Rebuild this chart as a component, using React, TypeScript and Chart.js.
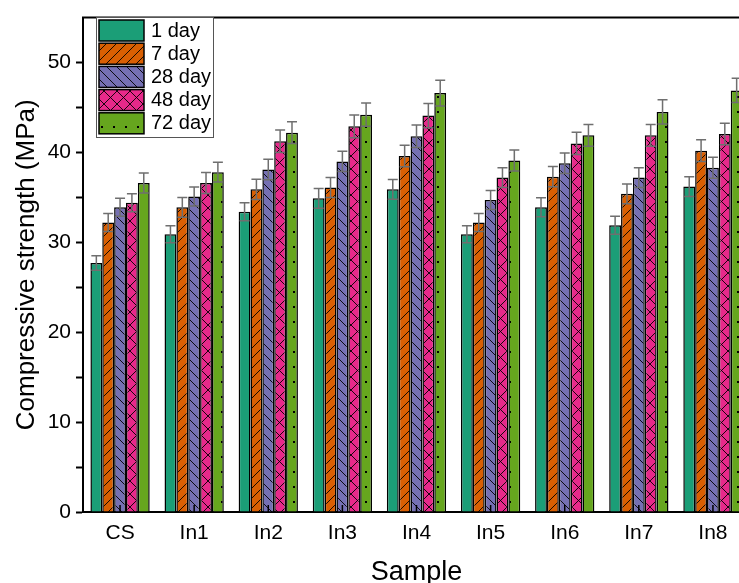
import React, { useEffect, useRef } from 'react';
import { Chart, registerables } from 'chart.js';

Chart.register(...registerables);

const categories = ['CS', 'In1', 'In2', 'In3', 'In4', 'In5', 'In6', 'In7', 'In8'];
const seriesLabels = ['1 day', '7 day', '28 day', '48 day', '72 day'];
const day1 = [27.7, 30.9, 33.4, 34.9, 35.9, 30.9, 33.9, 31.9, 36.2];
const day7 = [32.2, 33.9, 35.9, 36.1, 39.6, 32.2, 37.3, 35.4, 40.2];
const day28 = [33.9, 35.1, 38.1, 39.0, 41.8, 34.7, 38.8, 37.2, 38.3];
const day48 = [34.4, 36.6, 41.25, 42.9, 44.1, 37.2, 41.0, 41.9, 42.05];
const day72 = [36.6, 37.8, 42.2, 44.2, 46.6, 39.1, 41.9, 44.5, 46.9];
const err1 = [0.8, 0.95, 1.0, 1.1, 1.1, 0.95, 1.06, 1.0, 1.1];
const err7 = [1.0, 1.1, 1.13, 1.1, 1.2, 1.0, 1.13, 1.1, 1.2];
const err28 = [1.0, 1.05, 1.13, 1.13, 1.24, 1.06, 1.13, 1.1, 1.17];
const err48 = [1.0, 1.17, 1.25, 1.27, 1.35, 1.1, 1.24, 1.2, 1.2];
const err72 = [1.1, 1.1, 1.2, 1.3, 1.43, 1.17, 1.2, 1.35, 1.35];
const yTickLabels = [0, 10, 20, 30, 40, 50];

const colors = ['#1B9E77', '#D95F02', '#7570B3', '#E7298A', '#66A61E'];
const kinds = ['solid', 'fwd', 'back', 'cross', 'dots'];

function makePattern(ctx: CanvasRenderingContext2D, color: string, kind: string): any {
  if (kind === 'solid') return color;
  let w = 10, h = 10;
  if (kind === 'cross') { w = 13; h = 13; }
  if (kind === 'dots') { w = 12; h = 15; }
  const c = document.createElement('canvas');
  c.width = w; c.height = h;
  const g = c.getContext('2d')!;
  g.fillStyle = color;
  g.fillRect(0, 0, w, h);
  g.strokeStyle = '#000';
  g.lineWidth = 0.9;
  const fwd = () => {
    for (const o of [-w, 0, w]) {
      g.beginPath(); g.moveTo(o, h); g.lineTo(o + w, 0); g.stroke();
    }
  };
  const back = () => {
    for (const o of [-w, 0, w]) {
      g.beginPath(); g.moveTo(o, 0); g.lineTo(o + w, h); g.stroke();
    }
  };
  if (kind === 'fwd') fwd();
  if (kind === 'back') back();
  if (kind === 'cross') { fwd(); back(); }
  if (kind === 'dots') {
    g.fillStyle = '#000';
    g.fillRect(5, 6, 2, 2);
  }
  return ctx.createPattern(c, 'repeat');
}

export default function App() {
  const ref = useRef<HTMLCanvasElement>(null);

  useEffect(() => {
    const canvas = ref.current!;
    const ctx = canvas.getContext('2d')!;
    const values = [day1, day7, day28, day48, day72];
    const errors = [err1, err7, err28, err48, err72];
    const fills = colors.map((c, i) => makePattern(ctx, c, kinds[i]));
    const font = "'Liberation Sans', Arial, sans-serif";

    const errorBars = {
      id: 'errorBars',
      afterDatasetsDraw(chart: any) {
        const c = chart.ctx;
        const ys = chart.scales.y;
        c.save();
        c.strokeStyle = '#6f6f6f';
        c.lineWidth = 1.5;
        chart.data.datasets.forEach((ds: any, di: number) => {
          const meta = chart.getDatasetMeta(di);
          meta.data.forEach((el: any, i: number) => {
            const v = ds.data[i];
            const e = errors[di][i];
            const x = el.x;
            const yt = ys.getPixelForValue(v + e);
            const yb = ys.getPixelForValue(v - e);
            const cw = 5;
            c.beginPath();
            c.moveTo(x, yb); c.lineTo(x, yt);
            c.moveTo(x - cw, yt); c.lineTo(x + cw, yt);
            c.moveTo(x - cw, yb); c.lineTo(x + cw, yb);
            c.stroke();
          });
        });
        c.restore();
      },
    };

    const framePlugin = {
      id: 'frame',
      afterDraw(chart: any) {
        const c = chart.ctx;
        const a = chart.chartArea;
        const xs = chart.scales.x;
        c.save();
        c.strokeStyle = '#000';
        c.lineWidth = 2;
        c.beginPath();
        c.moveTo(a.left - 1, a.top); c.lineTo(a.right, a.top); c.lineTo(a.right, a.bottom);
        c.stroke();
        c.lineWidth = 1.5;
        categories.forEach((_, i) => {
          const x = xs.getPixelForValue(i);
          c.beginPath(); c.moveTo(x, a.bottom); c.lineTo(x, a.bottom - 7); c.stroke();
        });
        // legend
        const lx = 96, ly = 17, lw = 117, lh = 120;
        c.fillStyle = '#fff';
        c.fillRect(lx, ly, lw, lh);
        c.strokeStyle = '#555';
        c.lineWidth = 1;
        c.strokeRect(lx + 0.5, ly + 0.5, lw, lh);
        chart.data.datasets.forEach((ds: any, i: number) => {
          const sy = 20 + i * 23.2;
          c.fillStyle = ds.backgroundColor;
          c.fillRect(99, sy, 45, 21);
          c.strokeStyle = '#000';
          c.lineWidth = 1.5;
          c.strokeRect(99, sy, 45, 21);
          c.fillStyle = '#000';
          c.font = `20px ${font}`;
          c.textBaseline = 'middle';
          c.textAlign = 'left';
          c.fillText(ds.label, 151, sy + 11);
        });
        c.restore();
      },
    };

    const chart = new Chart(ctx, {
      type: 'bar',
      data: {
        labels: categories,
        datasets: values.map((v, i) => ({
          label: seriesLabels[i],
          data: v,
          backgroundColor: fills[i],
          borderColor: '#000',
          borderWidth: 1.5,
          categoryPercentage: 0.8,
          barPercentage: 1.0,
        })),
      },
      options: {
        animation: false,
        responsive: false,
        devicePixelRatio: 1,
        layout: { padding: { left: 0, top: 12, right: 10, bottom: 0 } },
        plugins: { legend: { display: false }, tooltip: { enabled: false } },
        font: { family: font },
        scales: {
          x: {
            type: 'category',
            offset: true,
            grid: { display: false, drawTicks: false },
            border: { display: true, color: '#000', width: 2 },
            ticks: { font: { size: 21, family: font }, color: '#000', padding: 9, maxRotation: 0, autoSkip: false },
            title: { display: true, text: 'Sample', font: { size: 27, family: font }, color: '#000', padding: { top: 0, bottom: 11 } },
            afterFit: (s: any) => { s.height = 88; },
          },
          y: {
            min: 0,
            max: 55,
            ticks: {
              stepSize: 5,
              callback: (v: any) => (yTickLabels.includes(Number(v)) ? String(v) : ''),
              font: { size: 21, family: font },
              color: '#000',
              padding: 5,
            },
            afterBuildTicks: (s: any) => { s.ticks = s.ticks.filter((t: any) => t.value <= 50); },
            grid: { drawOnChartArea: false, drawTicks: true, tickLength: 7, tickColor: '#000', tickWidth: 2 },
            border: { display: true, color: '#000', width: 2 },
            title: { display: true, text: 'Compressive strength (MPa)', font: { size: 26, family: font }, color: '#000', padding: { top: 11, bottom: 0 } },
            afterFit: (s: any) => { s.width = 83; },
          },
        },
      } as any,
      plugins: [errorBars, framePlugin],
    });
    return () => chart.destroy();
  }, []);

  return (
    <div style={{ position: 'fixed', left: 0, top: 0, width: 739, height: 583, overflow: 'hidden', background: '#fff' }}>
      <canvas ref={ref} width={760} height={600} style={{ width: 760, height: 600, display: 'block' }} />
    </div>
  );
}
